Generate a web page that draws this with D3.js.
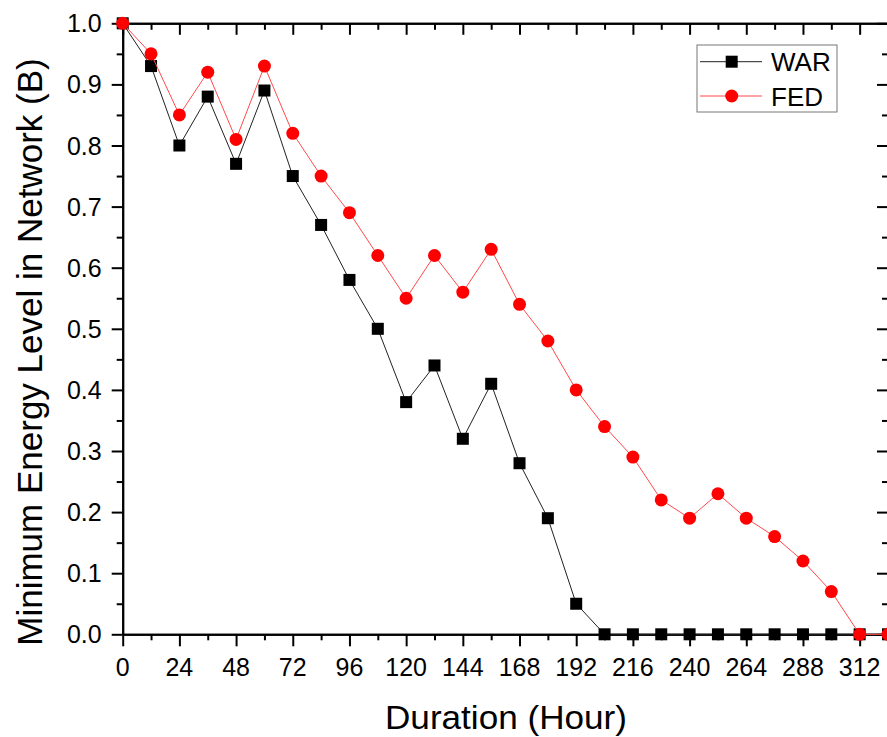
<!DOCTYPE html>
<html>
<head>
<meta charset="utf-8">
<script src="https://cdn.jsdelivr.net/npm/d3@7"></script>
<style>
  body { margin: 0; background: #fff; }
  text { font-family: Arial, "Liberation Sans", sans-serif; fill: #000; }
</style>
</head>
<body>
<div id="chart"></div>
<script>
const w = 887;
const h = 737;

// data
const hours = [0, 12, 24, 36, 48, 60, 72, 84, 96, 108, 120, 132, 144, 156, 168, 180, 192, 204, 216, 228, 240, 252, 264, 276, 288, 300, 312, 324];
const warValues = [1.0, 0.93, 0.80, 0.88, 0.77, 0.89, 0.75, 0.67, 0.58, 0.50, 0.38, 0.44, 0.32, 0.41, 0.28, 0.19, 0.05, 0, 0, 0, 0, 0, 0, 0, 0, 0, 0, 0];
const fedValues = [1.0, 0.95, 0.85, 0.92, 0.81, 0.93, 0.82, 0.75, 0.69, 0.62, 0.55, 0.62, 0.56, 0.63, 0.54, 0.48, 0.40, 0.34, 0.29, 0.22, 0.19, 0.23, 0.19, 0.16, 0.12, 0.07, 0, 0];
const xMajorTicks = d3.range(0, 313, 24);
const xMinorTicks = d3.range(12, 325, 24);
const yMajorTicks = d3.range(0, 11).map(d => d / 10);
const yMinorTicks = d3.range(0, 10).map(d => d / 10 + 0.05);
const seriesNames = ["WAR", "FED"];

const plotLeft = 122.7, plotRight = 888, plotTop = 23.3, plotBottom = 634.3;

const svg = d3.select("#chart").append("svg").attr("width", w).attr("height", h);

const x = d3.scaleLinear().domain([0, 324]).range([plotLeft, plotRight]);
const y = d3.scaleLinear().domain([0, 1]).range([plotBottom, plotTop]);

function styleAxis(g) {
    g.select(".domain").attr("stroke", "#000").attr("stroke-width", 2);
    g.selectAll(".tick line").attr("stroke", "#000").attr("stroke-width", 2);
}

// tick marks only, labels drawn below
svg.append("g").attr("transform", `translate(0,${plotBottom})`)
    .call(d3.axisBottom(x).tickValues(xMajorTicks).tickSize(12).tickSizeOuter(0).tickFormat(""))
    .call(styleAxis);
svg.append("g").attr("transform", `translate(0,${plotBottom})`)
    .call(d3.axisBottom(x).tickValues(xMinorTicks).tickSize(6).tickSizeOuter(0).tickFormat(""))
    .call(styleAxis);

svg.append("g").attr("transform", `translate(0,${plotTop})`)
    .call(d3.axisTop(x).tickValues(xMajorTicks).tickSize(-11.5).tickSizeOuter(0).tickFormat(""))
    .call(styleAxis);
svg.append("g").attr("transform", `translate(0,${plotTop})`)
    .call(d3.axisTop(x).tickValues(xMinorTicks).tickSize(-6.5).tickSizeOuter(0).tickFormat(""))
    .call(styleAxis);

svg.append("g").attr("transform", `translate(${plotLeft},0)`)
    .call(d3.axisLeft(y).tickValues(yMajorTicks).tickSize(11).tickSizeOuter(0).tickFormat(""))
    .call(styleAxis);
svg.append("g").attr("transform", `translate(${plotLeft},0)`)
    .call(d3.axisLeft(y).tickValues(yMinorTicks).tickSize(6).tickSizeOuter(0).tickFormat(""))
    .call(styleAxis);

svg.append("g").attr("transform", `translate(${plotRight},0)`)
    .call(d3.axisRight(y).tickValues(yMajorTicks).tickSize(-11).tickSizeOuter(0).tickFormat(""))
    .call(styleAxis);
svg.append("g").attr("transform", `translate(${plotRight},0)`)
    .call(d3.axisRight(y).tickValues(yMinorTicks).tickSize(-6).tickSizeOuter(0).tickFormat(""))
    .call(styleAxis);

// tick labels
svg.append("g").selectAll("text").data(xMajorTicks).enter().append("text")
    .attr("x", d => x(d)).attr("y", 676)
    .attr("text-anchor", "middle")
    .style("font-size", "25px")
    .text(d => d);

svg.append("g").selectAll("text").data(yMajorTicks).enter().append("text")
    .attr("x", 101.7).attr("y", d => y(d) + 9)
    .attr("text-anchor", "end")
    .style("font-size", "25px")
    .text(d3.format(".1f"));

// axis titles
svg.append("text")
    .attr("x", 385).attr("y", 729)
    .style("font-size", "33px")
    .attr("textLength", 242).attr("lengthAdjust", "spacingAndGlyphs")
    .text("Duration (Hour)");

svg.append("text")
    .attr("transform", "translate(42,352) rotate(-90)")
    .attr("text-anchor", "middle")
    .style("font-size", "35px")
    .text("Minimum Energy Level in Network (B)");

// series
const war = hours.map((hr, i) => ({ x: hr, y: warValues[i] }));
const fed = hours.map((hr, i) => ({ x: hr, y: fedValues[i] }));
const line = d3.line().x(d => x(d.x)).y(d => y(d.y));

svg.append("path").datum(war)
    .attr("fill", "none").attr("stroke", "#222").attr("stroke-width", 1)
    .attr("d", line);
svg.append("g").selectAll("rect").data(war).enter().append("rect")
    .attr("x", d => x(d.x) - 6).attr("y", d => y(d.y) - 6)
    .attr("width", 12).attr("height", 12)
    .attr("fill", "#000");

svg.append("path").datum(fed)
    .attr("fill", "none").attr("stroke", "#ff4a4a").attr("stroke-width", 1)
    .attr("d", line);
svg.append("g").selectAll("circle").data(fed).enter().append("circle")
    .attr("cx", d => x(d.x)).attr("cy", d => y(d.y))
    .attr("r", 6.5)
    .attr("fill", "#ff0000");

// legend
const legend = svg.append("g");
legend.append("rect")
    .attr("x", 697).attr("y", 45).attr("width", 140).attr("height", 67)
    .attr("fill", "#fff").attr("stroke", "#777").attr("stroke-width", 1);

const rows = [61.7, 96];
seriesNames.forEach((name, i) => {
    const ly = rows[i];
    const col = i === 0 ? "#000" : "#ff0000";
    legend.append("line")
        .attr("x1", 700).attr("x2", 762).attr("y1", ly).attr("y2", ly)
        .attr("stroke", i === 0 ? "#222" : "#ff4a4a").attr("stroke-width", 1);
    if (i === 0) {
        legend.append("rect").attr("x", 725.7).attr("y", ly - 6).attr("width", 12).attr("height", 12).attr("fill", col);
    } else {
        legend.append("circle").attr("cx", 731.7).attr("cy", ly).attr("r", 6.5).attr("fill", col);
    }
    legend.append("text")
        .attr("x", 771).attr("y", ly + 9.5)
        .style("font-size", "26px")
        .text(name);
});
</script>
</body>
</html>
